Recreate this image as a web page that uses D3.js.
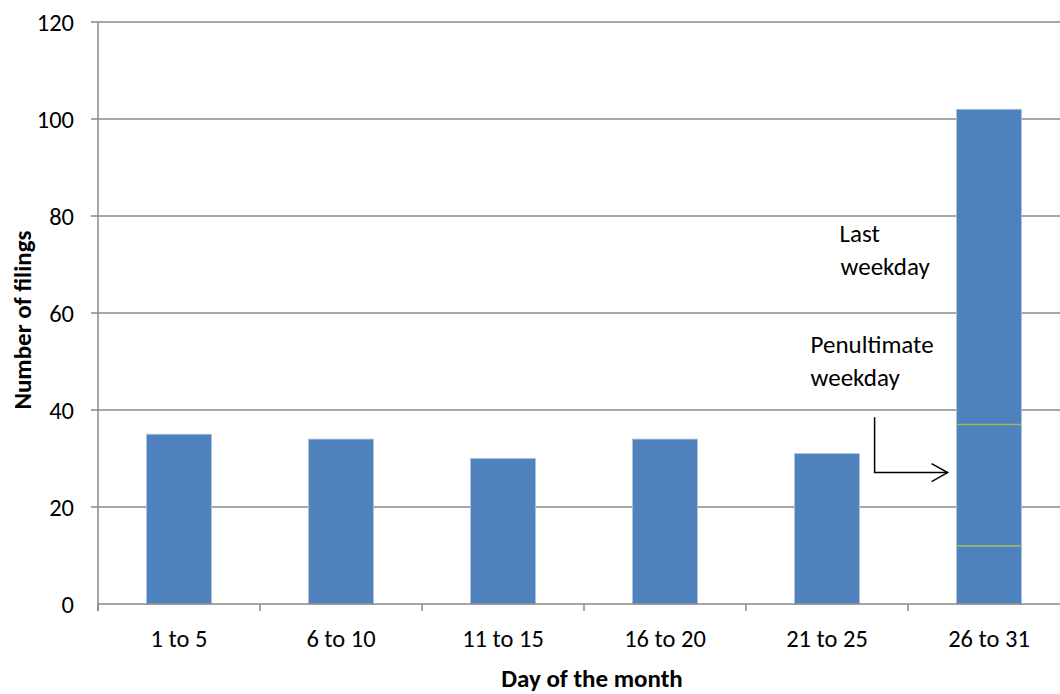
<!DOCTYPE html>
<html>
<head>
<meta charset="utf-8">
<script src="https://cdn.jsdelivr.net/npm/d3@7"></script>
<style>
  html, body { margin: 0; padding: 0; background: #fff; overflow: hidden; }
  svg { display: block; }
  text { font-family: Carlito, Lato, "Open Sans", sans-serif; fill: #000; }
</style>
</head>
<body>
<svg id="chart" width="1060" height="694"></svg>
<script>
// Filings by day-of-month bucket
const categories = ["1 to 5", "6 to 10", "11 to 15", "16 to 20", "21 to 25", "26 to 31"];
// The last bucket is split: other days, penultimate weekday, last weekday
const otherDays   = [35, 34, 30, 34, 31, 12];
const penultimate = [0, 0, 0, 0, 0, 25];
const lastWeekday = [0, 0, 0, 0, 0, 65];
const seriesKeys  = ["other", "penultimate", "last"];
const yTicks      = [0, 20, 40, 60, 80, 100, 120];

const rows = categories.map((c, i) => ({
  cat: c, other: otherDays[i], penultimate: penultimate[i], last: lastWeekday[i]
}));

const svg = d3.select("#chart");
const margin = { left: 98, top: 22 };
const plotW = 972, plotH = 582;
const x0 = margin.left, x1 = margin.left + plotW;
const yBase = margin.top + plotH;

const x = d3.scaleBand().domain(categories).range([x0, x1])
  .paddingInner(0.6).paddingOuter(0.3);
const y = d3.scaleLinear().domain([0, 120]).range([yBase, margin.top]);

const gridColor = "#898989";
const tickSize = 24.5;
const titleSize = 25;

// horizontal gridlines with short ticks on the value axis
svg.append("g").selectAll("line").data(yTicks.filter(d => d > 0)).join("line")
  .attr("x1", x0 - 7).attr("x2", x1)
  .attr("y1", d => y(d)).attr("y2", d => y(d))
  .attr("stroke", gridColor).attr("stroke-width", 1.5);

// value axis line and tick labels
svg.append("line").attr("x1", x0).attr("x2", x0)
  .attr("y1", y(120)).attr("y2", yBase + 7)
  .attr("stroke", gridColor).attr("stroke-width", 1.5);
svg.append("g").selectAll("text").data(yTicks).join("text")
  .attr("x", x0 - 24).attr("y", d => y(d))
  .attr("dy", "0.35em").attr("text-anchor", "end")
  .style("font-size", tickSize + "px")
  .text(d => d);

// stacked bars
const stacked = d3.stack().keys(seriesKeys)(rows);
const barG = svg.append("g");
stacked.forEach(layer => {
  barG.selectAll(null).data(layer.filter(d => d[1] > d[0])).join("rect")
    .attr("x", d => x(d.data.cat))
    .attr("width", x.bandwidth())
    .attr("y", d => y(d[1]))
    .attr("height", d => y(d[0]) - y(d[1]))
    .attr("fill", "#4F81BD")
    .attr("stroke", "#a9c1df").attr("stroke-width", 0.8);
});

// green separators where one segment sits on another
const seps = [];
stacked.forEach((layer, li) => {
  if (li === stacked.length - 1) return;
  layer.forEach((d, i) => {
    const next = stacked[li + 1][i];
    if (d[1] > d[0] && next[1] > next[0]) seps.push({ cat: d.data.cat, v: d[1] });
  });
});
svg.append("g").selectAll("line").data(seps).join("line")
  .attr("x1", d => x(d.cat)).attr("x2", d => x(d.cat) + x.bandwidth())
  .attr("y1", d => y(d.v)).attr("y2", d => y(d.v))
  .attr("stroke", "#9BBB59").attr("stroke-width", 1.5);

// category axis line, boundary ticks and labels
svg.append("line").attr("x1", x0).attr("x2", x1)
  .attr("y1", yBase).attr("y2", yBase)
  .attr("stroke", gridColor).attr("stroke-width", 1.5);
const step = x.step();
const bounds = d3.range(categories.length + 1).map(i => x0 + i * step);
svg.append("g").selectAll("line").data(bounds).join("line")
  .attr("x1", d => d).attr("x2", d => d)
  .attr("y1", yBase).attr("y2", yBase + 7)
  .attr("stroke", gridColor).attr("stroke-width", 1.5);
svg.append("g").selectAll("text").data(categories).join("text")
  .attr("x", d => x(d) + x.bandwidth() / 2).attr("y", yBase + 43)
  .attr("text-anchor", "middle")
  .style("font-size", tickSize + "px")
  .text(d => d);

// axis titles
svg.append("text")
  .attr("x", 592).attr("y", 687)
  .attr("text-anchor", "middle")
  .style("font-size", titleSize + "px").style("font-weight", "bold")
  .text("Day of the month");
svg.append("text")
  .attr("transform", "translate(31,320) rotate(-90)")
  .attr("text-anchor", "middle")
  .style("font-size", titleSize + "px").style("font-weight", "bold")
  .text("Number of filings");

// annotations for the split last bucket
const lastCat = categories[categories.length - 1];
const barLeft = x(lastCat);
const note = svg.append("g").style("font-size", titleSize + "px");
note.append("text").attr("x", barLeft - 117).attr("y", 242).text("Last");
note.append("text").attr("x", barLeft - 116).attr("y", 275).text("weekday");
note.append("text").attr("x", barLeft - 146).attr("y", 353).text("Penultimate");
note.append("text").attr("x", barLeft - 146).attr("y", 386).text("weekday");

// elbow arrow pointing at the penultimate-weekday segment
const arrowY = y(27.1);
const tipX = barLeft - 9;
const elbowX = barLeft - 82;
svg.append("path")
  .attr("d", `M${elbowX},${y(38.5)} V${arrowY} H${tipX}`)
  .attr("fill", "none").attr("stroke", "#000").attr("stroke-width", 1.5);
svg.append("path")
  .attr("d", `M${tipX - 16},${arrowY - 9} L${tipX},${arrowY} L${tipX - 16},${arrowY + 9}`)
  .attr("fill", "none").attr("stroke", "#000").attr("stroke-width", 1.5);
</script>
</body>
</html>
